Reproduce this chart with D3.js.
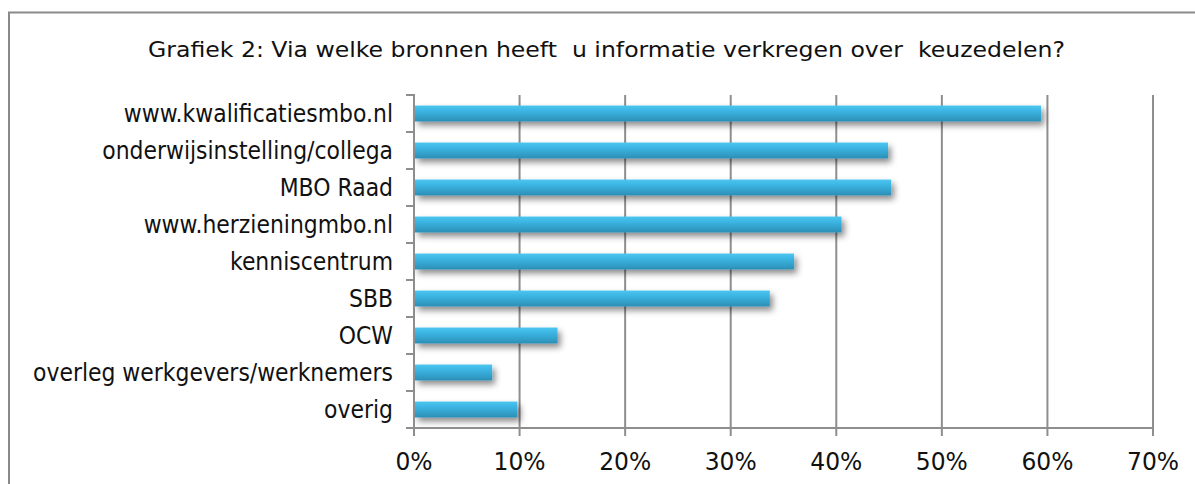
<!DOCTYPE html>
<html><head><meta charset="utf-8">
<script src="https://cdn.jsdelivr.net/npm/d3@7"></script>
<style>html,body{margin:0;padding:0;background:#fff;overflow:hidden}</style>
</head><body>
<svg id="c" width="1195" height="484"></svg>
<script>
const titleText = "Grafiek 2: Via welke bronnen heeft  u informatie verkregen over  keuzedelen?";
const categories = ["www.kwalificatiesmbo.nl","onderwijsinstelling/collega","MBO Raad","www.herzieningmbo.nl","kenniscentrum","SBB","OCW","overleg werkgevers/werknemers","overig"];
const values = [0.594, 0.449, 0.452, 0.405, 0.360, 0.337, 0.136, 0.074, 0.098];
const tickValues = [0, 0.1, 0.2, 0.3, 0.4, 0.5, 0.6, 0.7];

const svg = d3.select("#c");
svg.style("font-family", "'DejaVu Sans', Verdana, sans-serif");
const defs = svg.append("defs");
const grad = defs.append("linearGradient").attr("id","bg").attr("x1",0).attr("y1",0).attr("x2",0).attr("y2",1);
grad.append("stop").attr("offset","0%").attr("stop-color","#4cc6f0");
grad.append("stop").attr("offset","35%").attr("stop-color","#3bb4e2");
grad.append("stop").attr("offset","100%").attr("stop-color","#2b8fb6");
const f = defs.append("filter").attr("id","sh").attr("x","-10%").attr("y","-50%").attr("width","130%").attr("height","250%");
f.append("feDropShadow").attr("dx",3).attr("dy",4).attr("stdDeviation",3).attr("flood-color","#000").attr("flood-opacity",0.45);

// outer border
svg.append("rect").attr("x",9).attr("y",12.5).attr("width",1200).attr("height",500)
  .attr("fill","none").attr("stroke","#8a8a8a").attr("stroke-width",2);

// title
svg.append("text").attr("x",148).attr("y",57).text(titleText)
  .attr("font-size",21.5).attr("fill","#111")
  .attr("textLength",917).attr("lengthAdjust","spacingAndGlyphs").style("white-space","pre");

const x = d3.scaleLinear().domain([0,0.7]).range([414,1153]);
const y = d3.scaleBand().domain(categories).range([95,428]).paddingInner(0.57).paddingOuter(0.285);

// gridlines
svg.append("g").selectAll("line").data(tickValues.slice(1)).join("line")
  .attr("x1",d=>x(d)).attr("x2",d=>x(d)).attr("y1",95).attr("y2",428)
  .attr("stroke","#8e8e8e").attr("stroke-width",2);

// bars
svg.append("g").selectAll("rect").data(values).join("rect")
  .attr("x",x(0)+1).attr("y",(d,i)=>y(categories[i]))
  .attr("width",d=>x(d)-x(0)-1).attr("height",y.bandwidth())
  .attr("fill","url(#bg)").attr("filter","url(#sh)");

// left axis
const ax = svg.append("g").attr("stroke","#8e8e8e").attr("stroke-width",2);
ax.append("line").attr("x1",414).attr("x2",414).attr("y1",94).attr("y2",429);
const bounds = categories.map(c=>y(c)-y.step()*y.paddingInner()/2).concat([428]);
ax.selectAll(".lt").data(bounds).join("line").attr("class","lt")
  .attr("x1",406).attr("x2",414).attr("y1",d=>d).attr("y2",d=>d);
// bottom axis
ax.append("line").attr("x1",413).attr("x2",1154).attr("y1",428).attr("y2",428);
ax.selectAll(".bt").data(tickValues).join("line").attr("class","bt")
  .attr("x1",d=>x(d)).attr("x2",d=>x(d)).attr("y1",428).attr("y2",436);

// category labels
const lab = svg.append("g").selectAll("text").data(categories).join("text")
  .attr("x",393).attr("y",d=>y(d)+y.bandwidth()/2).attr("dy","0.36em")
  .attr("text-anchor","end").attr("font-size",24).attr("fill","#111").text(d=>d);
let wmax = 0; lab.each(function(){wmax=Math.max(wmax,this.getComputedTextLength());});
const k1 = 360/wmax;
lab.each(function(){const w=this.getComputedTextLength(); d3.select(this).attr("textLength",w*k1).attr("lengthAdjust","spacingAndGlyphs");});

// tick labels
const tl = svg.append("g").selectAll("text").data(tickValues).join("text")
  .attr("x",d=>x(d)).attr("y",470).attr("text-anchor","middle")
  .attr("font-size",24).attr("fill","#111").text(d=>Math.round(d*100)+"%");
let w70 = 0; tl.each(function(d){ if(d===0.7) w70=this.getComputedTextLength(); });
const k2 = 52/w70;
tl.each(function(){const w=this.getComputedTextLength(); d3.select(this).attr("textLength",w*k2).attr("lengthAdjust","spacingAndGlyphs");});
</script>
</body></html>
